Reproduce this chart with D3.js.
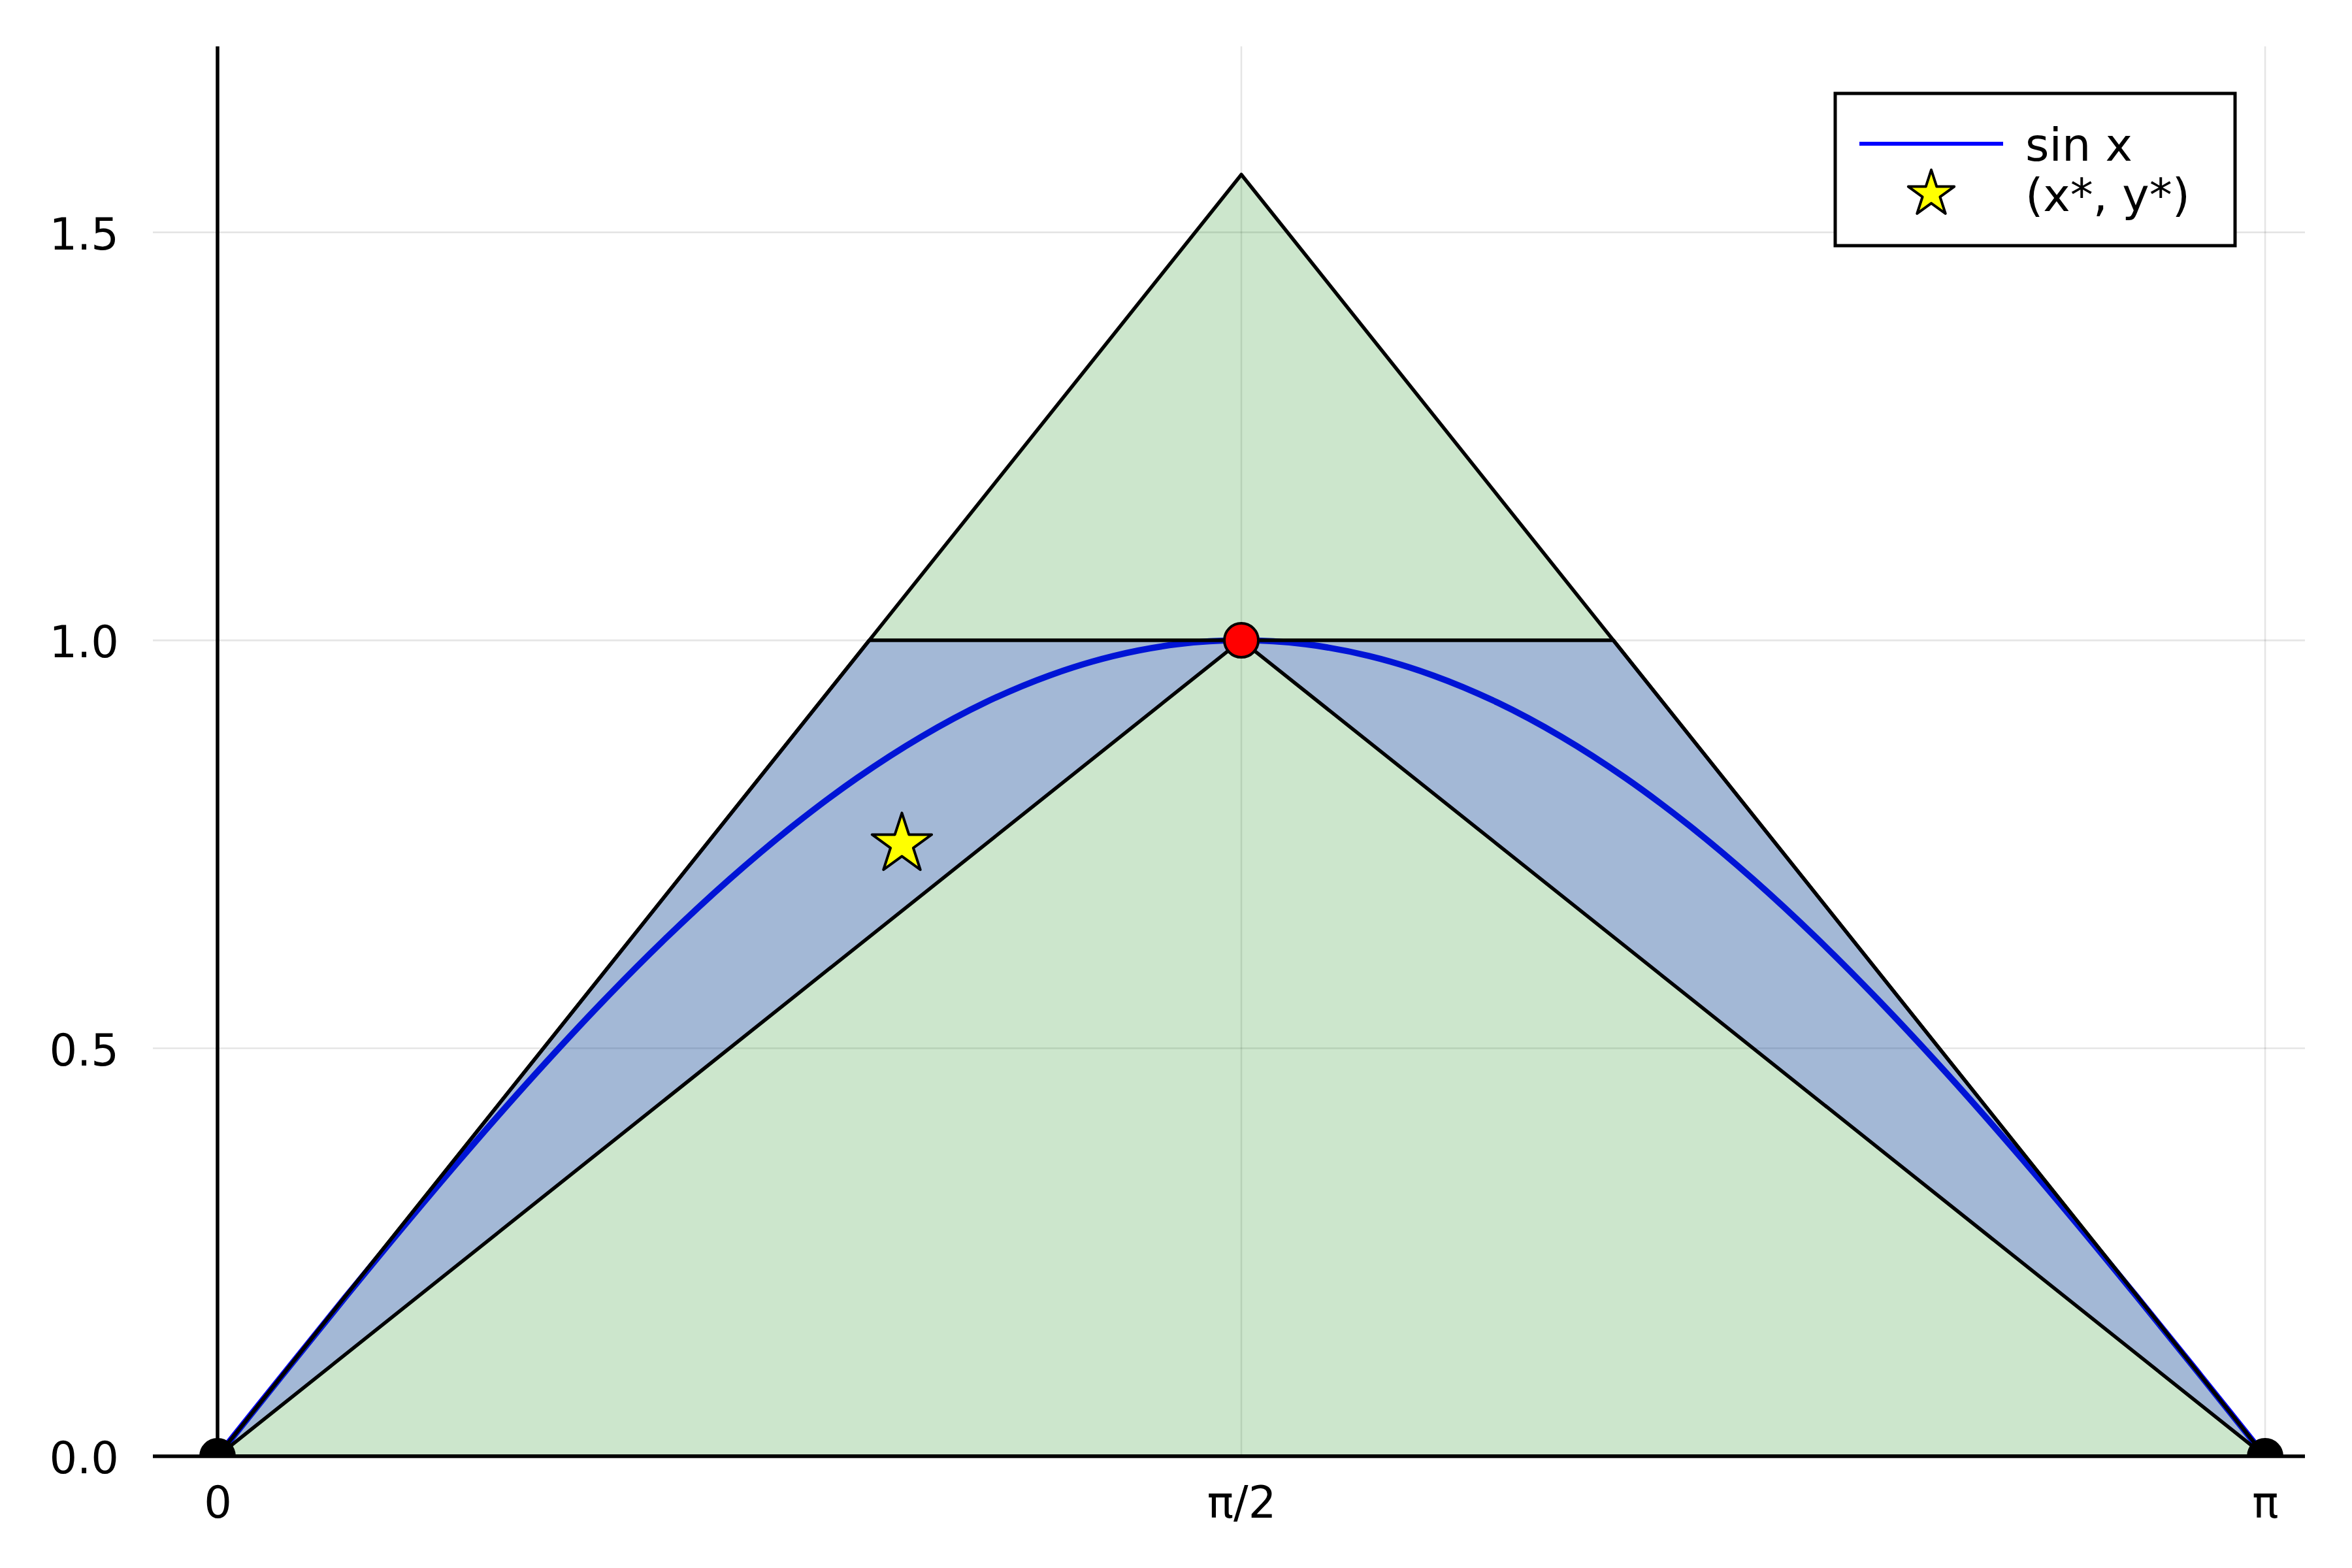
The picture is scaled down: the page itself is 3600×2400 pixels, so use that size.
<!DOCTYPE html>
<html><head><meta charset="utf-8">
<script src="https://cdn.jsdelivr.net/npm/d3@7"></script>
<style>html,body{margin:0;padding:0;background:#fff;}svg{display:block;}</style>
</head><body>
<script>
// ---- data ----
const xLimits = [-0.0992, 3.2027];
const yLimits = [0, 1.7279];
const xTickValues = [0, 1.5708, 3.1416];
const xTickLabels = ["0", "π/2", "π"];
const yTickValues = [0, 0.5, 1.0, 1.5];
const yTickLabels = ["0.0", "0.5", "1.0", "1.5"];

const sinX = [0, 0.0982, 0.1963, 0.2945, 0.3927, 0.4909, 0.5890, 0.6872, 0.7854, 0.8836, 0.9817,
  1.0799, 1.1781, 1.2763, 1.3744, 1.4726, 1.5708, 1.6690, 1.7671, 1.8653, 1.9635, 2.0617, 2.1598,
  2.2580, 2.3562, 2.4544, 2.5525, 2.6507, 2.7489, 2.8471, 2.9452, 3.0434, 3.1416];
const sinY = [0, 0.0980, 0.1951, 0.2903, 0.3827, 0.4714, 0.5556, 0.6344, 0.7071, 0.7730, 0.8315,
  0.8819, 0.9239, 0.9569, 0.9808, 0.9952, 1.0, 0.9952, 0.9808, 0.9569, 0.9239, 0.8819, 0.8315,
  0.7730, 0.7071, 0.6344, 0.5556, 0.4714, 0.3827, 0.2903, 0.1951, 0.0980, 0];

const outerX = [0, 1.5708, 3.1416];
const outerY = [0, 1.5708, 0];
const innerX = [0, 1.0, 2.1416, 3.1416, 1.5708];
const innerY = [0, 1.0, 1.0, 0, 1.0];

const endPointsX = [0, 3.1416];
const endPointsY = [0, 0];
const peakX = [1.5708];
const peakY = [1.0];
const starX = [1.05];
const starY = [0.75];

const legendLabels = ["sin x", "(x*, y*)"];

// ---- layout ----
const W = 3600, H = 2400;
const plot = {left: 234, right: 3528, top: 71, bottom: 2229};
const FONT = "DejaVu Sans";
const FS = 67;
const LFS = 70;

const x = d3.scaleLinear().domain(xLimits).range([plot.left, plot.right]);
const y = d3.scaleLinear().domain(yLimits).range([plot.bottom, plot.top]);

const svg = d3.select("body").append("svg").attr("width", W).attr("height", H)
  .style("font-family", FONT);
svg.append("rect").attr("width", W).attr("height", H).attr("fill", "#fff");

svg.append("defs").append("clipPath").attr("id", "clip")
  .append("rect").attr("x", plot.left).attr("y", plot.top)
  .attr("width", plot.right - plot.left).attr("height", plot.bottom - plot.top);

// grid
const grid = svg.append("g").attr("stroke", "#000").attr("stroke-opacity", 0.1).attr("stroke-width", 2.6);
grid.selectAll("line.gx").data(xTickValues).join("line").attr("class", "gx")
  .attr("x1", d => x(d)).attr("x2", d => x(d)).attr("y1", plot.top).attr("y2", plot.bottom);
grid.selectAll("line.gy").data(yTickValues).join("line").attr("class", "gy")
  .attr("y1", d => y(d)).attr("y2", d => y(d)).attr("x1", plot.left).attr("x2", plot.right);

const area = svg.append("g").attr("clip-path", "url(#clip)");

// sin curve (drawn first, fills go over it)
const sinData = sinX.map((v, i) => [v, sinY[i]]);
area.append("path").datum(sinData)
  .attr("d", d3.line().x(d => x(d[0])).y(d => y(d[1])).curve(d3.curveCatmullRom))
  .attr("fill", "none").attr("stroke", "#0000ff").attr("stroke-width", 9.5)
  .attr("stroke-linejoin", "round");

// shapes
const poly = (xs, ys) => "M" + xs.map((v, i) => x(v) + "," + y(ys[i])).join("L") + "Z";
area.append("path").attr("d", poly(outerX, outerY))
  .attr("fill", "rgb(0,128,0)").attr("fill-opacity", 0.2)
  .attr("stroke", "#000").attr("stroke-width", 5.5).attr("stroke-linejoin", "round");
area.append("path").attr("d", poly(innerX, innerY))
  .attr("fill", "rgb(0,0,255)").attr("fill-opacity", 0.2)
  .attr("stroke", "#000").attr("stroke-width", 5.5).attr("stroke-linejoin", "round");

// axis lines through the origin
svg.append("line").attr("x1", plot.left).attr("x2", plot.right)
  .attr("y1", y(0)).attr("y2", y(0)).attr("stroke", "#000").attr("stroke-width", 5.5);
svg.append("line").attr("x1", x(0)).attr("x2", x(0))
  .attr("y1", plot.top).attr("y2", plot.bottom).attr("stroke", "#000").attr("stroke-width", 5.5);

// tick labels via d3 axes
const xAxis = d3.axisBottom(x).tickValues(xTickValues)
  .tickFormat((d, i) => xTickLabels[i]).tickSize(0).tickPadding(46);
const gx = svg.append("g").attr("transform", `translate(0,${plot.bottom})`).call(xAxis);
gx.select(".domain").remove();
gx.selectAll("text").attr("font-size", FS).attr("font-family", FONT).attr("fill", "#000");

const yAxis = d3.axisLeft(y).tickValues(yTickValues)
  .tickFormat((d, i) => yTickLabels[i]).tickSize(0).tickPadding(52);
const gy = svg.append("g").attr("transform", `translate(${plot.left},0)`).call(yAxis);
gy.select(".domain").remove();
gy.selectAll("text").attr("font-size", FS).attr("font-family", FONT).attr("fill", "#000").attr("dy", "0.38em");

// markers
const markers = svg.append("g").attr("clip-path", "url(#clip)");
markers.selectAll("circle.end").data(endPointsX.map((v, i) => [v, endPointsY[i]])).join("circle")
  .attr("class", "end").attr("cx", d => x(d[0])).attr("cy", d => y(d[1])).attr("r", 26)
  .attr("fill", "#000").attr("stroke", "#000").attr("stroke-width", 4);
markers.selectAll("circle.peak").data(peakX.map((v, i) => [v, peakY[i]])).join("circle")
  .attr("class", "peak").attr("cx", d => x(d[0])).attr("cy", d => y(d[1])).attr("r", 26)
  .attr("fill", "#ff0000").attr("stroke", "#000").attr("stroke-width", 4);

function starPath(R) {
  const pts = [];
  for (let k = 0; k < 10; k++) {
    const r = k % 2 === 0 ? R : R * 0.382;
    const a = -Math.PI / 2 + k * Math.PI / 5;
    pts.push([r * Math.cos(a), r * Math.sin(a)]);
  }
  return "M" + pts.map(p => p[0].toFixed(2) + "," + p[1].toFixed(2)).join("L") + "Z";
}
markers.selectAll("path.star").data(starX.map((v, i) => [v, starY[i]])).join("path")
  .attr("class", "star").attr("transform", d => `translate(${x(d[0])},${y(d[1])})`)
  .attr("d", starPath(48)).attr("fill", "#ffff00").attr("stroke", "#000")
  .attr("stroke-width", 4).attr("stroke-linejoin", "round");

// legend
const lg = svg.append("g");
const lb = {x: 2809, y: 143, w: 612, h: 233};
lg.append("rect").attr("x", lb.x).attr("y", lb.y).attr("width", lb.w).attr("height", lb.h)
  .attr("fill", "#fff").attr("stroke", "#000").attr("stroke-width", 5);
const rowY = [220, 297];
lg.append("line").attr("x1", 2846).attr("x2", 3066).attr("y1", rowY[0]).attr("y2", rowY[0])
  .attr("stroke", "#0000ff").attr("stroke-width", 6);
lg.append("path").attr("transform", `translate(2956,${rowY[1]})`).attr("d", starPath(37))
  .attr("fill", "#ffff00").attr("stroke", "#000").attr("stroke-width", 4).attr("stroke-linejoin", "round");
lg.selectAll("text").data(legendLabels).join("text")
  .attr("x", 3100).attr("y", (d, i) => rowY[i] + 26)
  .attr("font-size", LFS).attr("font-family", FONT).attr("fill", "#000").text(d => d);
</script>
</body></html>
